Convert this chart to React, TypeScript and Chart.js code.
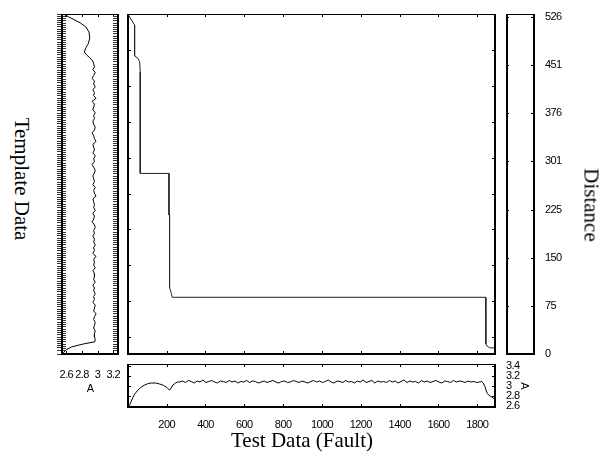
import React, { useEffect, useRef } from 'react';
import { Chart, registerables } from 'chart.js';

Chart.register(...registerables);

// ---------- tick values ----------
const testTicks = [200, 400, 600, 800, 1000, 1200, 1400, 1600, 1800];
const templateTicks = [100, 200, 300, 400, 500, 600, 700, 800, 900];
const distanceTicks = [0, 75, 150, 225, 301, 376, 451, 526];
const templateAmpTicks = [2.6, 2.8, 3, 3.2];
const testAmpTicks = [2.6, 2.8, 3, 3.2, 3.4];

// ---------- warping path (test index, template index) ----------
const pathTestIdx = [1, 35, 35, 52, 61, 64, 64, 212, 212, 215, 215, 219, 224, 229, 1843, 1844, 1850, 1865, 1891];
const pathTemplateIdx = [1, 31, 117, 123, 133, 161, 444, 444, 560, 560, 763, 769, 778, 789, 789, 919, 925, 930, 930];

// ---------- template signal (shown vertically) ----------
const templateHeadIdx = [0, 8, 17, 25, 36, 50, 67, 83, 94, 106, 114, 122, 131];
const templateHeadVal = [2.56, 2.63, 2.71, 2.78, 2.85, 2.89, 2.9, 2.88, 2.85, 2.83, 2.86, 2.9, 2.94];
const templateMidStart = 139;
const templateMidStep = 8;
const templateMidVal = [
  2.95, 2.96, 2.94, 2.97, 2.95, 2.93, 2.96, 2.95, 2.97, 2.94,
  2.96, 2.95, 2.98, 2.93, 2.96, 2.95, 2.94, 2.97, 2.95, 2.96,
  2.94, 2.95, 2.97, 2.96, 2.93, 2.95, 2.96, 2.98, 2.94, 2.95,
  2.96, 2.94, 2.97, 2.95, 2.96, 2.93, 2.95, 2.97, 2.96, 2.94,
  2.95, 2.96, 2.94, 2.97, 2.95, 2.96, 2.98, 2.94, 2.95, 2.96,
  2.95, 2.97, 2.94, 2.96, 2.95, 2.93, 2.96, 2.97, 2.95, 2.96,
  2.94, 2.96, 2.95, 2.97, 2.95, 2.96, 2.94, 2.98, 2.95, 2.96,
  2.95, 2.97, 2.94, 2.96, 2.96, 2.95, 2.97, 2.94, 2.96, 2.95,
  2.97, 2.95, 2.96, 2.94, 2.97, 2.96, 2.95, 2.98, 2.96, 2.95,
  2.97, 2.96, 2.95, 2.97, 2.96, 2.96, 2.97,
];
const templateTailIdx = [913, 919, 927, 935, 944];
const templateTailVal = [2.965, 2.82, 2.67, 2.6, 2.56];

// ---------- test signal (fault) ----------
const testHeadIdx = [2, 9, 18, 26, 34, 42, 52, 66, 87, 105, 121, 143, 164, 185, 198, 205, 212, 216, 223, 232, 246, 257];
const testHeadVal = [2.58, 2.62, 2.7, 2.77, 2.83, 2.87, 2.92, 2.97, 3.02, 3.05, 3.06, 3.06, 3.04, 3.01, 2.98, 2.95, 2.93, 2.92, 2.96, 3.02, 3.06, 3.08];
const testMidStart = 267;
const testMidStep = 15;
const testMidVal = [
  3.08, 3.1, 3.07, 3.11, 3.09, 3.06, 3.1, 3.08, 3.12, 3.07,
  3.09, 3.11, 3.08, 3.06, 3.1, 3.09, 3.07, 3.11, 3.08, 3.1,
  3.06, 3.09, 3.08, 3.11, 3.07, 3.1, 3.09, 3.06, 3.08, 3.1,
  3.07, 3.09, 3.11, 3.08, 3.06, 3.09, 3.1, 3.07, 3.08, 3.11,
  3.09, 3.07, 3.1, 3.08, 3.06, 3.09, 3.11, 3.08, 3.1, 3.07,
  3.09, 3.12, 3.08, 3.06, 3.1, 3.09, 3.07, 3.11, 3.08, 3.09,
  3.06, 3.1, 3.08, 3.12, 3.07, 3.09, 3.11, 3.06, 3.1, 3.08,
  3.09, 3.07, 3.11, 3.08, 3.1, 3.06, 3.09, 3.12, 3.07, 3.1,
  3.08, 3.09, 3.06, 3.11, 3.08, 3.1, 3.07, 3.09, 3.11, 3.08,
  3.06, 3.1, 3.09, 3.07, 3.11, 3.08, 3.1, 3.09, 3.07, 3.1,
  3.08, 3.09, 3.07, 3.08,
];
const testTailIdx = [1822, 1830, 1839, 1851, 1865, 1879, 1891];
const testTailVal = [3.09, 3.06, 2.99, 2.85, 2.8, 2.77, 2.73];

// ---------- ranges ----------
const TEST_MIN = 1;
const TEST_MAX = 1891;
const TEMPLATE_MIN = 0;
const TEMPLATE_MAX = 947;
const DIST_MAX = 531;

const SANS = '"Liberation Sans", Arial, sans-serif';
const SERIF = '"Liberation Serif", "Times New Roman", serif';

// build point lists from the arrays
const templatePoints = [
  ...templateHeadIdx.map((y, i) => ({ x: templateHeadVal[i], y })),
  ...templateMidVal.map((v, i) => ({ x: v, y: templateMidStart + i * templateMidStep })),
  ...templateTailIdx.map((y, i) => ({ x: templateTailVal[i], y })),
];
const testPoints = [
  ...testHeadIdx.map((x, i) => ({ x, y: testHeadVal[i] })),
  ...testMidVal.map((v, i) => ({ x: testMidStart + i * testMidStep, y: v })),
  ...testTailIdx.map((x, i) => ({ x, y: testTailVal[i] })),
];
const pathPoints = pathTestIdx.map((x, i) => ({ x, y: pathTemplateIdx[i] }));

type TickSpec = { id: string; a?: number; b?: number; color?: string };

const framePlugin = {
  id: 'frame',
  beforeDraw(chart: any) {
    try {
      (chart.ctx as any).letterSpacing = '-0.6px';
    } catch (e) {}
  },
  afterDraw(chart: any, _args: any, opts: any) {
    const ctx = chart.ctx;
    const ca = chart.chartArea;
    const L = Math.round(ca.left);
    const R = Math.round(ca.right);
    const T = Math.round(ca.top);
    const B = Math.round(ca.bottom);
    ctx.save();
    ((opts && opts.ticks) || []).forEach((sp: TickSpec) => {
      const s = chart.scales[sp.id];
      if (!s) return;
      ctx.strokeStyle = sp.color || '#000';
      ctx.lineWidth = 1;
      ctx.beginPath();
      s.ticks.forEach((t: any) => {
        const p = Math.round(s.getPixelForValue(t.value)) + 0.5;
        if (s.isHorizontal()) {
          if (sp.a) { ctx.moveTo(p, T); ctx.lineTo(p, T + sp.a); }
          if (sp.b) { ctx.moveTo(p, B); ctx.lineTo(p, B - sp.b); }
        } else {
          if (sp.a) { ctx.moveTo(L, p); ctx.lineTo(L + sp.a, p); }
          if (sp.b) { ctx.moveTo(R, p); ctx.lineTo(R - sp.b, p); }
        }
      });
      ctx.stroke();
    });
    ctx.fillStyle = '#000';
    ctx.fillRect(L - 1, T, R - L + 2, 1);
    ctx.fillRect(L - 1, B - 1, R - L + 2, 2);
    ctx.fillRect(L - 1, T, 2, B - T);
    ctx.fillRect(R - 1, T, 2, B - T);
    ctx.restore();
  },
};
Chart.register(framePlugin);
Chart.defaults.color = '#000';
Chart.defaults.font.family = SANS;

const setTicks = (vals: number[]) => (s: any) => {
  s.ticks = vals.map((v) => ({ value: v }));
};

const lineDs = (data: any[]) => ({
  data,
  showLine: true,
  pointRadius: 0,
  borderColor: '#000',
  borderWidth: 1,
  fill: false,
  tension: 0,
});

const tickFont = { family: SANS, size: 11 };

export default function App() {
  const tplRef = useRef<HTMLCanvasElement>(null);
  const mainRef = useRef<HTMLCanvasElement>(null);
  const distRef = useRef<HTMLCanvasElement>(null);
  const testRef = useRef<HTMLCanvasElement>(null);

  useEffect(() => {
    const charts: Chart[] = [];

    // Template panel
    charts.push(
      new Chart(tplRef.current as HTMLCanvasElement, {
        type: 'scatter',
        data: { datasets: [lineDs(templatePoints) as any] },
        options: {
          animation: false,
          responsive: false,
          events: [],
          layout: { padding: { left: 17, top: 10, right: 12, bottom: 0 } },
          plugins: {
            legend: { display: false },
            tooltip: { enabled: false },
            frame: {
              ticks: [
                { id: 'x', a: 3, b: 3 },
                { id: 'y', a: 4, b: 5, color: '#333' },
              ],
            },
          } as any,
          scales: {
            x: {
              type: 'linear',
              min: 2.544,
              max: 3.262,
              afterBuildTicks: setTicks(templateAmpTicks),
              grid: { display: false },
              border: { display: false },
              ticks: { font: tickFont, padding: 6, maxRotation: 0, autoSkip: false, callback: (v: any) => String(v) },
              title: { display: true, text: 'A', font: { family: SANS, size: 11 }, padding: { top: 0, bottom: 8 } },
              afterFit: (s: any) => { s.height = 50; },
            },
            y: {
              type: 'linear',
              position: 'left',
              reverse: true,
              min: TEMPLATE_MIN,
              max: TEMPLATE_MAX,
              grid: { display: true, drawOnChartArea: false, drawTicks: true, tickLength: 5, color: '#333', lineWidth: 1 },
              border: { display: false },
              ticks: { display: false, stepSize: 6 },
              afterFit: (s: any) => { s.width = 5; },
            },
          },
        } as any,
      })
    );

    // Main (warping path) panel
    charts.push(
      new Chart(mainRef.current as HTMLCanvasElement, {
        type: 'scatter',
        data: { datasets: [{ ...lineDs(pathPoints), borderColor: '#222' } as any] },
        options: {
          animation: false,
          responsive: false,
          events: [],
          layout: { padding: 2 },
          plugins: {
            legend: { display: false },
            tooltip: { enabled: false },
            frame: { ticks: [{ id: 'x', a: 3, b: 3 }, { id: 'y', a: 3, b: 3 }] },
          } as any,
          scales: {
            x: { type: 'linear', display: false, min: TEST_MIN, max: TEST_MAX, afterBuildTicks: setTicks(testTicks) },
            y: { type: 'linear', display: false, reverse: true, min: TEMPLATE_MIN, max: TEMPLATE_MAX, afterBuildTicks: setTicks(templateTicks) },
          },
        } as any,
      })
    );

    // Distance axis panel
    charts.push(
      new Chart(distRef.current as HTMLCanvasElement, {
        type: 'scatter',
        data: { datasets: [] },
        options: {
          animation: false,
          responsive: false,
          events: [],
          layout: { padding: { left: 7, top: 10, right: 0, bottom: 10 } },
          plugins: {
            legend: { display: false },
            tooltip: { enabled: false },
            frame: { ticks: [{ id: 'y', a: 2, b: 3 }] },
          } as any,
          scales: {
            x: { type: 'linear', display: false, min: 0, max: 1 },
            y: {
              type: 'linear',
              position: 'right',
              min: 0,
              max: DIST_MAX,
              afterBuildTicks: setTicks(distanceTicks),
              grid: { display: false },
              border: { display: false },
              ticks: { font: tickFont, padding: 3, autoSkip: false, callback: (v: any) => String(v) },
              afterFit: (s: any) => { s.width = 46; },
            },
          },
        } as any,
      })
    );

    // Test signal panel
    charts.push(
      new Chart(testRef.current as HTMLCanvasElement, {
        type: 'scatter',
        data: { datasets: [lineDs(testPoints) as any] },
        options: {
          animation: false,
          responsive: false,
          events: [],
          layout: { padding: { left: 10, top: 10, right: 0, bottom: 0 } },
          plugins: {
            legend: { display: false },
            tooltip: { enabled: false },
            frame: { ticks: [{ id: 'x', a: 3, b: 3 }, { id: 'y', a: 3, b: 3 }] },
          } as any,
          scales: {
            x: {
              type: 'linear',
              min: TEST_MIN,
              max: TEST_MAX,
              afterBuildTicks: setTicks(testTicks),
              grid: { display: false },
              border: { display: false },
              ticks: { font: tickFont, padding: 3, maxRotation: 0, autoSkip: false, callback: (v: any) => String(v) },
              afterFit: (s: any) => { s.height = 23; },
            },
            y: {
              type: 'linear',
              position: 'right',
              min: 2.58,
              max: 3.44,
              afterBuildTicks: setTicks(testAmpTicks),
              grid: { display: false },
              border: { display: false },
              ticks: { font: tickFont, padding: 3, autoSkip: false, callback: (v: any) => String(v) },
              title: { display: true, text: 'A', font: { family: SANS, size: 11 }, padding: { top: 9, bottom: 0 } },
              afterFit: (s: any) => { s.width = 45; },
            },
          },
        } as any,
      })
    );

    return () => charts.forEach((c) => c.destroy());
  }, []);

  const abs = (left: number, top: number): React.CSSProperties => ({ position: 'absolute', left, top });
  const bigText: React.CSSProperties = {
    position: 'absolute',
    fontFamily: SERIF,
    fontSize: 21,
    lineHeight: 1,
    whiteSpace: 'nowrap',
    color: '#000',
  };

  return (
    <div style={{ position: 'fixed', left: 0, top: 0, width: 616, height: 456, background: '#fff', overflow: 'hidden' }}>
      <canvas ref={tplRef} width={90} height={400} style={abs(40, 4)} />
      <canvas ref={mainRef} width={371} height={344} style={abs(126, 12)} />
      <canvas ref={distRef} width={80} height={360} style={abs(500, 4)} />
      <canvas ref={testRef} width={422} height={76} style={abs(118, 354)} />
      <div style={{ ...bigText, left: 21, top: 179, transform: 'translate(-50%, -50%) rotate(90deg)' }}>Template Data</div>
      <div style={{ ...bigText, left: 591, top: 205, transform: 'translate(-50%, -50%) rotate(90deg)' }}>Distance</div>
      <div style={{ ...bigText, left: 302, top: 440, transform: 'translate(-50%, -50%)' }}>Test Data (Fault)</div>
    </div>
  );
}
